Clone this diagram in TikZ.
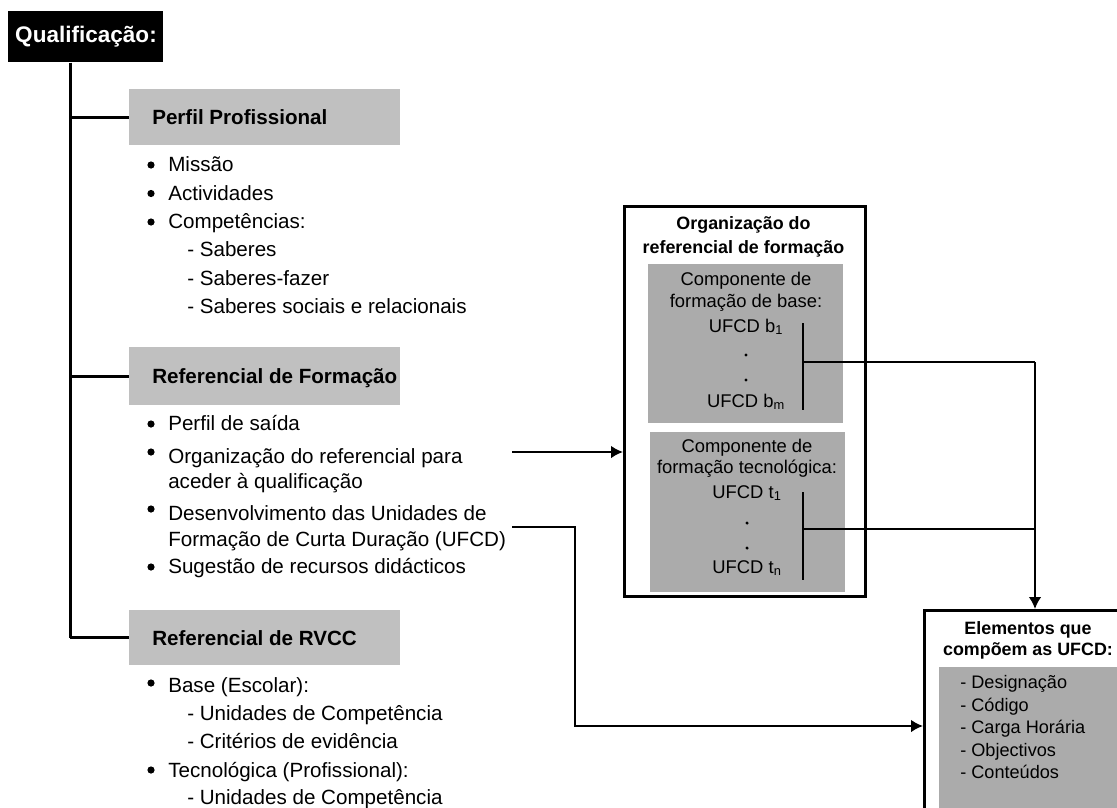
\documentclass[tikz,border=0pt]{standalone}
\usepackage{fontspec}
\setmainfont{Liberation Sans}
\usetikzlibrary{arrows.meta}
\definecolor{barfill}{HTML}{C0C0C0}
\definecolor{boxfill}{HTML}{ABABAB}
\begin{document}
\begin{tikzpicture}[x=0.75pt,y=-0.75pt,
  txt/.style={inner sep=0pt, anchor=base west, font=\fontsize{15.45}{18}\selectfont},
  head/.style={inner sep=0pt, anchor=base west, font=\fontsize{15.45}{18}\selectfont\bfseries},
  bul/.style={circle, fill=black, inner sep=0pt, minimum size=5.4pt},
  dotmark/.style={circle, fill=black, inner sep=0pt, minimum size=2.6pt},
  small/.style={inner sep=0pt, anchor=base, font=\fontsize{13.8}{16}\selectfont},
  smallb/.style={inner sep=0pt, anchor=base, font=\fontsize{13.4}{16}\selectfont\bfseries},
  elem/.style={inner sep=0pt, anchor=base west, font=\fontsize{13.6}{16}\selectfont},
  bar/.style={fill=barfill, inner sep=0pt, anchor=north west, minimum width=203.25pt},
  gbox/.style={fill=boxfill, inner sep=0pt, anchor=north west},
  obox/.style={draw, line width=2.25pt, inner sep=0pt, anchor=north west},
  trunk/.style={line width=2.25pt},
  conn/.style={line width=1.5pt},
  arr/.style={conn, -{Latex[length=9pt,width=9.5pt]}}
]
\clip (0,0) rectangle (1117,807);

% title block
\node[fill=black, inner sep=0pt, anchor=north west, minimum width=116.25pt, minimum height=38.25pt] (q) at (8,11) {};
\node[inner sep=0pt, anchor=base, text=white, font=\fontsize{16.9}{20}\selectfont\bfseries] (qt) at (86,42) {Qualificação:};

% section bars
\node[bar, minimum height=42pt] (pp) at (129,89) {};
\node[bar, minimum height=43.5pt] (rf) at (129,347) {};
\node[bar, minimum height=41.25pt] (rv) at (129,610) {};
\node[head] (ppt) at (152,124.5) {Perfil Profissional};
\node[head] (rft) at (152,383.5) {Referencial de Formação};
\node[head] (rvt) at (152,645) {Referencial de RVCC};

% tree
\coordinate (tr) at (70,0);
\draw[trunk] (tr |- q.south) -- (tr |- rv.west);
\draw[trunk] (tr |- pp.west) -- (pp.west);
\draw[trunk] (tr |- rf.west) -- (rf.west);
\draw[trunk] (tr |- rv.west) -- (rv.west);

% Perfil Profissional items
\node[bul] (pb1) at (151,165) {}; \node[txt] (p1) at (168,171) {Missão};
\node[bul] (pb2) at (151,193.5) {}; \node[txt] (p2) at (168,200) {Actividades};
\node[bul] (pb3) at (151,222) {}; \node[txt] (p3) at (168,228.3) {Competências:};
\node[txt] (p4) at (187,256.7) {- Saberes};
\node[txt] (p5) at (187,285) {- Saberes-fazer};
\node[txt] (p6) at (187,313.3) {- Saberes sociais e relacionais};

% Referencial de Formação items
\node[bul] (fb1) at (151,424) {}; \node[txt] (f1) at (168,430) {Perfil de saída};
\node[bul] (fb2) at (151,452) {}; \node[txt] (f2) at (168,463) {Organização do referencial para};
\node[txt] (f2b) at (168,488) {aceder à qualificação};
\node[bul] (fb3) at (151,509) {}; \node[txt] (f3) at (168,520) {Desenvolvimento das Unidades de};
\node[txt] (f3b) at (168,546) {Formação de Curta Duração (UFCD)};
\node[bul] (fb4) at (151,567) {}; \node[txt] (f4) at (168,573) {Sugestão de recursos didácticos};

% Referencial de RVCC items
\node[bul] (rb1) at (151,683) {}; \node[txt] (r1) at (168,692) {Base (Escolar):};
\node[txt] (r2) at (187,720) {- Unidades de Competência};
\node[txt] (r3) at (187,748) {- Critérios de evidência};
\node[bul] (rb4) at (151,770) {}; \node[txt] (r4) at (168,777) {Tecnológica (Profissional):};
\node[txt] (r5) at (187,804) {- Unidades de Competência};

% organisation of the training reference
\node[obox, minimum width=180.75pt, minimum height=292.5pt] (org) at (623,205) {};
\node[smallb] (ot1) at (743.5,229.5) {Organização do};
\node[smallb] (ot2) at (743.5,253.5) {referencial de formação};
\node[gbox, minimum width=146.25pt, minimum height=119.25pt] (cb) at (648,264) {};
\node[gbox, minimum width=146.25pt, minimum height=120pt] (ct) at (650,432) {};
\node[small] (cb1) at (746,285) {Componente de};
\node[small] (cb2) at (746,307) {formação de base:};
\node[small] (cb3) at (746,332) {UFCD b\textsubscript{1}};
\node[dotmark] (cb4) at (746,355) {};
\node[dotmark] (cb5) at (746,380) {};
\node[small] (cb6) at (746,407) {UFCD b\textsubscript{m}};
\node[small] (ct1) at (747,452) {Componente de};
\node[small] (ct2) at (747,473.5) {formação tecnológica:};
\node[small] (ct3) at (747,498) {UFCD t\textsubscript{1}};
\node[dotmark] (ct4) at (747,523) {};
\node[dotmark] (ct5) at (747,548) {};
\node[small] (ct6) at (747,573) {UFCD t\textsubscript{n}};

% elements of each UFCD
\node[obox, minimum width=157.5pt, minimum height=165pt] (el) at (923,609) {};
\node[gbox, minimum width=150pt, minimum height=120pt] (eg) at (939,667) {};
\node[smallb] (et1) at (1028,634) {Elementos que};
\node[smallb] (et2) at (1028,655) {compõem as UFCD:};
\node[elem] (e1) at (960,688) {- Designação};
\node[elem] (e2) at (960,711) {- Código};
\node[elem] (e3) at (960,733.5) {- Carga Horária};
\node[elem] (e4) at (960,756) {- Objectivos};
\node[elem] (e5) at (960,778.5) {- Conteúdos};

% brackets and connectors
\coordinate (b1t) at (803,323);
\coordinate (b1b) at (803,410);
\coordinate (b1m) at (803,362);
\coordinate (b2t) at (803,492);
\coordinate (b2b) at (803,580);
\coordinate (b2m) at (803,529);
\coordinate (jn) at (1035,362);
\draw[conn] (b1t) -- (b1b);
\draw[conn] (b2t) -- (b2b);
\draw[conn] (b1m) -- (jn);
\draw[conn] (b2m) -- (b2m -| jn);
\draw[arr] (jn) -- (jn |- el.north);

\coordinate (a1) at (512,452);
\draw[arr] (a1) -- (a1 -| org.west);

\coordinate (d1) at (512,527);
\coordinate (d2) at (575,726);
\draw[arr] (d1) -| (d2) -- (d2 -| el.west);
\end{tikzpicture}
\end{document}
